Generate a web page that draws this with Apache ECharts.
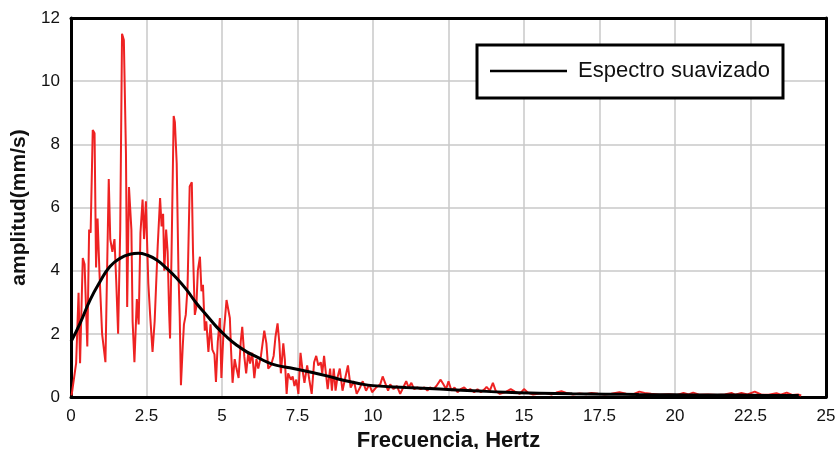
<!DOCTYPE html>
<html>
<head>
<meta charset="utf-8">
<script src="https://cdn.jsdelivr.net/npm/echarts@6/dist/echarts.min.js"></script>
<style>
html,body{margin:0;padding:0;background:#fff;}
#chart{width:840px;height:449px;}
</style>
</head>
<body>
<div id="chart"></div>
<script>
// Raw spectrum (red)
const rawFreq = [0.02,0.17,0.25,0.3,0.39,0.45,0.54,0.6,0.65,0.72,0.78,0.83,0.88,0.94,1.03,1.14,1.25,1.3,1.37,1.44,1.5,1.56,1.63,1.69,1.75,1.82,1.86,1.92,2.0,2.04,2.1,2.18,2.24,2.3,2.37,2.42,2.48,2.52,2.56,2.62,2.7,2.77,2.87,2.95,3.0,3.05,3.09,3.15,3.2,3.25,3.28,3.33,3.4,3.44,3.5,3.56,3.6,3.64,3.7,3.74,3.8,3.86,3.93,4.0,4.04,4.1,4.15,4.2,4.27,4.32,4.37,4.43,4.48,4.55,4.62,4.68,4.75,4.8,4.86,4.93,4.98,5.04,5.1,5.15,5.21,5.26,5.3,5.35,5.42,5.48,5.55,5.62,5.67,5.74,5.8,5.87,5.93,6.0,6.07,6.14,6.2,6.29,6.4,6.47,6.53,6.62,6.71,6.77,6.84,6.9,6.95,7.03,7.08,7.14,7.19,7.28,7.34,7.4,7.46,7.53,7.6,7.66,7.73,7.82,7.89,7.97,8.05,8.12,8.19,8.27,8.32,8.38,8.44,8.5,8.58,8.64,8.7,8.76,8.82,8.9,8.99,9.08,9.17,9.26,9.37,9.46,9.57,9.66,9.77,9.88,9.97,10.1,10.24,10.32,10.42,10.5,10.57,10.68,10.79,10.9,11.0,11.1,11.18,11.27,11.36,11.47,11.58,11.7,11.8,11.89,12.0,12.1,12.24,12.33,12.42,12.5,12.6,12.7,12.8,12.9,13.02,13.13,13.22,13.35,13.46,13.57,13.7,13.76,13.87,13.97,14.06,14.2,14.37,14.56,14.7,14.86,15.0,15.14,15.3,15.47,15.69,15.91,16.07,16.24,16.4,16.62,16.84,17.06,17.23,17.45,17.67,17.89,18.16,18.38,18.6,18.82,18.99,19.21,19.5,19.8,20.05,20.28,20.45,20.6,20.8,21.1,21.4,21.65,21.87,22.0,22.2,22.4,22.64,22.85,23.1,23.36,23.5,23.7,23.9,24.07,24.18];
const rawAmp = [0.05,1.07,3.3,1.07,4.4,4.2,1.6,5.3,5.2,8.45,8.35,4.1,5.65,4.0,2.0,1.1,6.9,5.0,4.6,5.0,3.6,2.0,5.3,11.5,11.3,7.7,2.85,6.65,5.3,2.4,1.1,3.1,2.3,5.2,6.25,5.0,6.2,6.25,3.6,2.6,1.43,2.4,4.76,6.3,5.4,5.8,4.0,5.3,4.6,2.65,1.85,4.6,8.9,8.7,7.4,3.85,2.55,0.37,1.6,2.3,2.6,3.5,6.67,6.8,4.6,2.6,2.85,4.0,4.44,3.35,3.55,2.1,2.4,1.43,2.3,1.5,1.35,0.48,1.75,2.5,0.6,1.85,2.5,3.07,3.07,2.5,1.48,0.45,1.2,0.9,0.6,1.75,2.22,1.27,0.75,1.4,1.06,1.4,0.6,1.2,0.9,1.3,2.1,1.7,0.9,1.0,1.3,1.9,2.33,1.7,0.75,1.7,1.2,0.1,0.75,0.55,0.65,0.35,0.55,0.1,1.4,0.9,0.45,1.0,0.55,0.1,1.1,1.3,1.0,1.1,0.75,1.3,0.75,0.25,0.9,0.2,0.9,0.2,0.6,0.9,0.2,0.6,1.0,0.3,0.5,0.1,0.3,0.5,0.2,0.4,0.15,0.3,0.4,0.65,0.4,0.2,0.4,0.25,0.35,0.1,0.3,0.5,0.3,0.45,0.25,0.3,0.25,0.3,0.2,0.3,0.25,0.35,0.55,0.4,0.25,0.5,0.2,0.3,0.15,0.25,0.3,0.2,0.25,0.15,0.25,0.15,0.25,0.32,0.2,0.45,0.2,0.1,0.15,0.25,0.17,0.1,0.25,0.13,0.08,0.1,0.13,0.08,0.14,0.18,0.13,0.08,0.11,0.09,0.13,0.1,0.08,0.1,0.15,0.1,0.08,0.17,0.13,0.1,0.07,0.09,0.06,0.13,0.08,0.14,0.07,0.08,0.06,0.08,0.13,0.07,0.13,0.08,0.17,0.08,0.07,0.12,0.07,0.14,0.06,0.08,0.05];
// Smoothed spectrum (black)
const smoothFreq = [0,0.3,0.63,0.96,1.29,1.62,1.95,2.23,2.5,2.84,3.17,3.5,3.83,4.16,4.49,4.82,5.16,5.49,5.82,6.15,6.48,6.81,7.36,7.91,8.47,9.02,9.57,10.0,11.1,12.2,13.3,14.4,15.5,16.6,17.7,18.8,20,21,22,23,24.1];
const smoothAmp = [1.75,2.33,3.07,3.65,4.13,4.39,4.52,4.55,4.5,4.34,4.07,3.76,3.39,2.96,2.59,2.22,1.9,1.64,1.43,1.27,1.11,1.0,0.9,0.79,0.67,0.53,0.42,0.36,0.3,0.25,0.2,0.15,0.12,0.1,0.09,0.08,0.07,0.06,0.06,0.05,0.05];
const xTitle = 'Frecuencia, Hertz';
const yTitle = 'amplitud(mm/s)';
const legendName = 'Espectro suavizado';

const font = "'Liberation Sans', Arial, sans-serif";
const chart = echarts.init(document.getElementById('chart'), null, {renderer: 'canvas'});
const frameAxis = {
  axisLine: {show: true, onZero: false, lineStyle: {color: '#000', width: 3}},
  axisTick: {show: false},
  axisLabel: {show: false},
  splitLine: {show: false}
};
chart.setOption({
  animation: false,
  backgroundColor: '#fff',
  grid: {left: 71, right: 14, top: 18, bottom: 52, outerBoundsMode: 'none', containLabel: false},
  legend: {
    data: [legendName],
    left: 477, top: 45,
    padding: [15, 13, 16, 13],
    borderColor: '#000', borderWidth: 3,
    backgroundColor: '#fff',
    icon: 'rect',
    itemWidth: 77, itemHeight: 2.5,
    textStyle: {fontFamily: font, fontSize: 22, color: '#111', padding: [0, 0, 0, 6]}
  },
  xAxis: [{
    type: 'value', min: 0, max: 25, interval: 2.5, position: 'bottom',
    name: xTitle, nameLocation: 'middle', nameGap: 32,
    nameTextStyle: {fontFamily: font, fontSize: 22, fontWeight: 'bold', color: '#111'},
    axisLine: {show: true, onZero: false, lineStyle: {color: '#000', width: 3}},
    axisTick: {show: false},
    axisLabel: {fontFamily: font, fontSize: 17, color: '#111', margin: 11},
    splitLine: {show: true, lineStyle: {color: '#c8c8c8', width: 1.5}}
  }, Object.assign({type: 'value', min: 0, max: 25, interval: 2.5, position: 'top'}, frameAxis)],
  yAxis: [{
    type: 'value', min: 0, max: 12, interval: 2, position: 'left',
    name: yTitle, nameLocation: 'middle', nameGap: 37,
    nameTextStyle: {fontFamily: font, fontSize: 21, fontWeight: 'bold', color: '#111'},
    axisLine: {show: true, onZero: false, lineStyle: {color: '#000', width: 3}},
    axisTick: {show: false},
    axisLabel: {fontFamily: font, fontSize: 17, color: '#111', margin: 11},
    splitLine: {show: true, lineStyle: {color: '#c8c8c8', width: 1.5}}
  }, Object.assign({type: 'value', min: 0, max: 12, interval: 2, position: 'right'}, frameAxis)],
  series: [
    {
      name: 'Espectro',
      type: 'line',
      symbol: 'none',
      data: rawFreq.map((f, i) => [f, rawAmp[i]]),
      lineStyle: {color: '#ee2222', width: 2},
      itemStyle: {color: '#ee2222'},
      z: 2
    },
    {
      name: legendName,
      type: 'line',
      symbol: 'none',
      smooth: true,
      data: smoothFreq.map((f, i) => [f, smoothAmp[i]]),
      lineStyle: {color: '#000', width: 3},
      itemStyle: {color: '#000'},
      z: 3
    }
  ]
});
</script>
</body>
</html>
